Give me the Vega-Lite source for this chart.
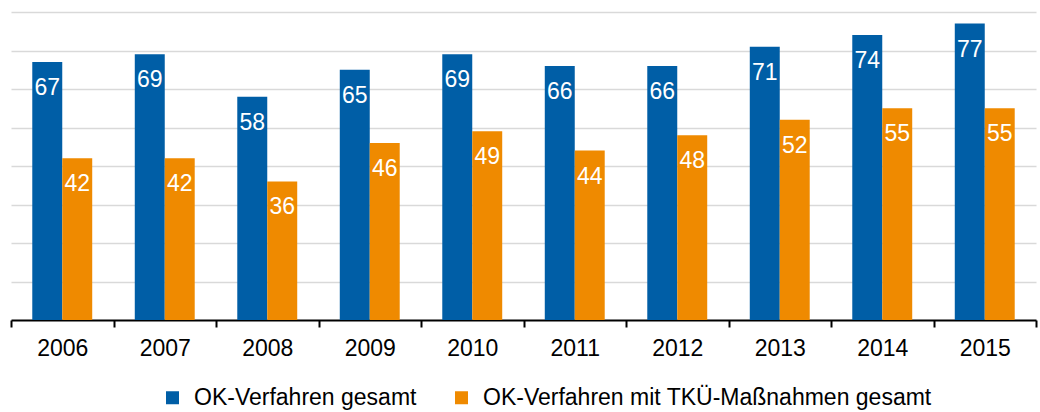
{
  "$schema": "https://vega.github.io/schema/vega-lite/v6.json",
  "width": 1025,
  "height": 308,
  "padding": {"left": 10, "top": 12, "right": 5, "bottom": 0},
  "config": {
    "view": {"stroke": null},
    "font": "Liberation Sans"
  },
  "data": {
    "values": [
      {"year": "2006", "series": "OK-Verfahren gesamt", "value": 67},
      {"year": "2007", "series": "OK-Verfahren gesamt", "value": 69},
      {"year": "2008", "series": "OK-Verfahren gesamt", "value": 58},
      {"year": "2009", "series": "OK-Verfahren gesamt", "value": 65},
      {"year": "2010", "series": "OK-Verfahren gesamt", "value": 69},
      {"year": "2011", "series": "OK-Verfahren gesamt", "value": 66},
      {"year": "2012", "series": "OK-Verfahren gesamt", "value": 66},
      {"year": "2013", "series": "OK-Verfahren gesamt", "value": 71},
      {"year": "2014", "series": "OK-Verfahren gesamt", "value": 74},
      {"year": "2015", "series": "OK-Verfahren gesamt", "value": 77},
      {"year": "2006", "series": "OK-Verfahren mit TKÜ-Maßnahmen gesamt", "value": 42},
      {"year": "2007", "series": "OK-Verfahren mit TKÜ-Maßnahmen gesamt", "value": 42},
      {"year": "2008", "series": "OK-Verfahren mit TKÜ-Maßnahmen gesamt", "value": 36},
      {"year": "2009", "series": "OK-Verfahren mit TKÜ-Maßnahmen gesamt", "value": 46},
      {"year": "2010", "series": "OK-Verfahren mit TKÜ-Maßnahmen gesamt", "value": 49},
      {"year": "2011", "series": "OK-Verfahren mit TKÜ-Maßnahmen gesamt", "value": 44},
      {"year": "2012", "series": "OK-Verfahren mit TKÜ-Maßnahmen gesamt", "value": 48},
      {"year": "2013", "series": "OK-Verfahren mit TKÜ-Maßnahmen gesamt", "value": 52},
      {"year": "2014", "series": "OK-Verfahren mit TKÜ-Maßnahmen gesamt", "value": 55},
      {"year": "2015", "series": "OK-Verfahren mit TKÜ-Maßnahmen gesamt", "value": 55}
    ]
  },
  "encoding": {
    "x": {
      "field": "year",
      "type": "nominal",
      "scale": {"paddingInner": 0, "paddingOuter": 0},
      "axis": {
        "title": null,
        "labelAngle": 0,
        "labelFont": "Liberation Sans",
        "labelFontSize": 23,
        "labelColor": "#000000",
        "labelPadding": 10,
        "domainColor": "#000000",
        "domainWidth": 2,
        "tickColor": "#000000",
        "tickWidth": 2,
        "tickSize": 7,
        "tickBand": "extent",
        "grid": false
      }
    },
    "xOffset": {
      "field": "series",
      "type": "nominal",
      "sort": ["OK-Verfahren gesamt", "OK-Verfahren mit TKÜ-Maßnahmen gesamt"],
      "scale": {"paddingInner": 0, "paddingOuter": 0.71}
    },
    "y": {
      "field": "value",
      "type": "quantitative",
      "scale": {"domain": [0, 80], "nice": false},
      "axis": {
        "title": null,
        "labels": false,
        "ticks": false,
        "domain": false,
        "values": [10, 20, 30, 40, 50, 60, 70, 80],
        "gridColor": "#d9d9d9",
        "gridWidth": 1.5
      }
    }
  },
  "layer": [
    {
      "mark": {"type": "bar"},
      "encoding": {
        "color": {
          "field": "series",
          "type": "nominal",
          "sort": ["OK-Verfahren gesamt", "OK-Verfahren mit TKÜ-Maßnahmen gesamt"],
          "scale": {
            "domain": ["OK-Verfahren gesamt", "OK-Verfahren mit TKÜ-Maßnahmen gesamt"],
            "range": ["#005EA6", "#EF8A00"]
          },
          "legend": {
            "title": null,
            "orient": "none",
            "direction": "horizontal",
            "legendX": 150,
            "legendY": 374,
            "symbolType": "square",
            "symbolSize": 169,
            "symbolStrokeWidth": 0,
            "symbolOpacity": 1,
            "labelFont": "Liberation Sans",
            "labelFontSize": 23,
            "labelColor": "#000000",
            "labelOffset": 10,
            "labelLimit": 600,
            "columnPadding": 33,
            "padding": 0
          }
        }
      }
    },
    {
      "mark": {
        "type": "text",
        "color": "#ffffff",
        "font": "Liberation Sans",
        "fontSize": 23,
        "baseline": "alphabetic",
        "align": "center",
        "dy": 33
      },
      "encoding": {
        "text": {"field": "value", "type": "quantitative"}
      }
    }
  ]
}
